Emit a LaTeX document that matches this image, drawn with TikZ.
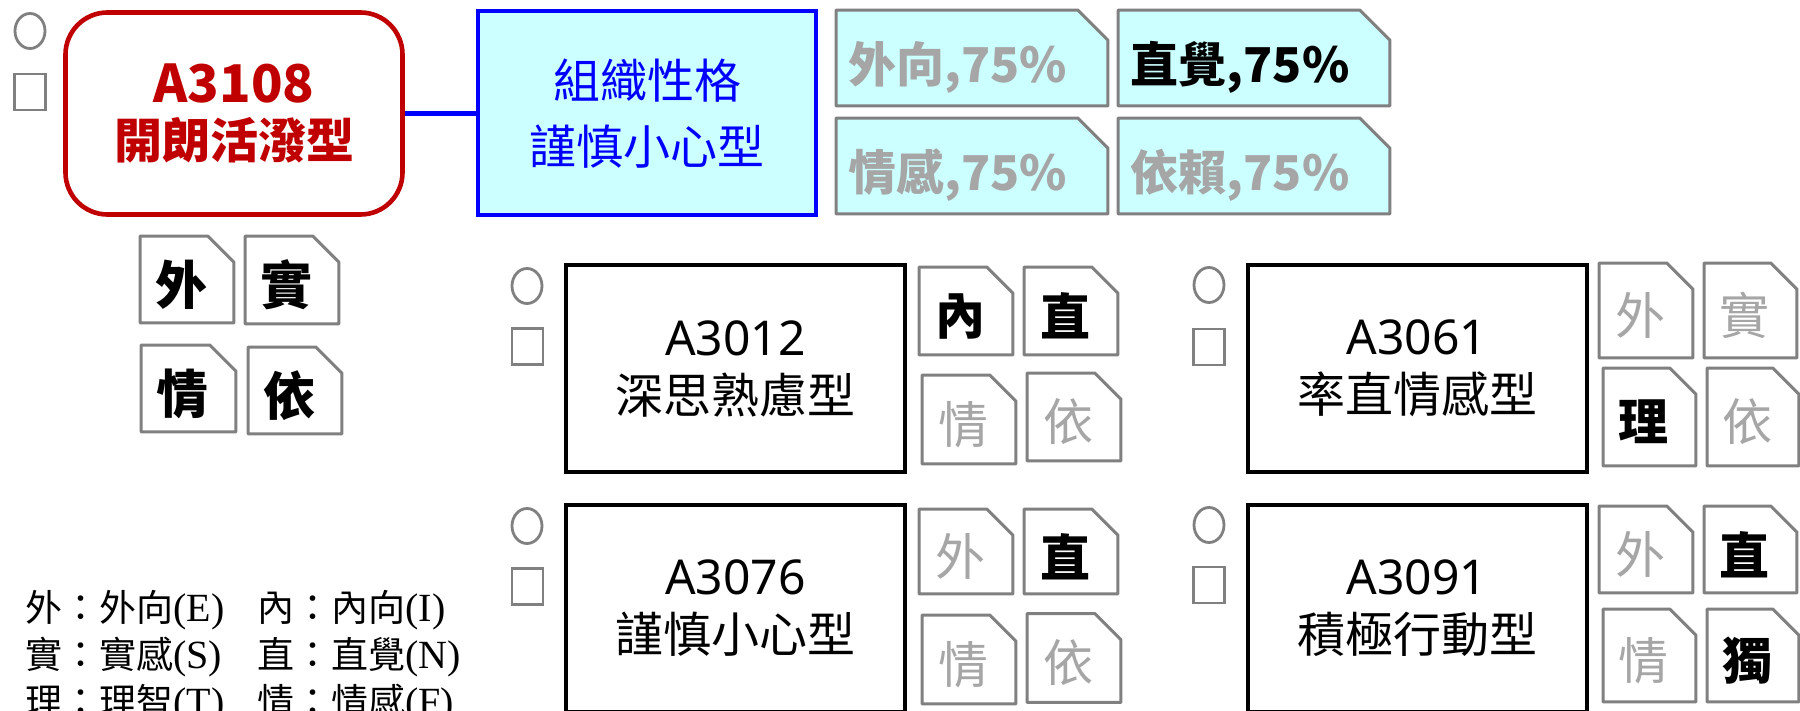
\documentclass[tikz,border=0pt]{standalone}
\usepackage{fontspec}
\setmainfont{Noto Sans CJK TC}
\newfontfamily\latf{Noto Sans}
\newfontfamily\tnr{Liberation Serif}
\usetikzlibrary{shapes.geometric,backgrounds}
\definecolor{cred}{HTML}{C00000}
\definecolor{cblue}{HTML}{0000FF}
\definecolor{ccyan}{HTML}{CCFFFF}
\definecolor{cline}{HTML}{808080}
\definecolor{ctext}{HTML}{A6A6A6}
\newcommand\smo[1]{\hspace*{-6pt}\raisebox{-2.5pt}[\height][\depth]{#1}}
\newcommand\tpo[1]{\hspace*{-14pt}\raisebox{-4.5pt}[\height][\depth]{#1}}
\newcommand\bktx[1]{\smo{\bfseries\color{black}#1}}
\newcommand\grtx[1]{\smo{\color{ctext}#1}}
% name, x, y, width, height, cut, path style, text
\newcommand\mytag[8]{%
  \node[tagnode,minimum width=#4,minimum height=#5] (#1) at (#2,#3) {#8};
  \begin{scope}[on background layer]
  \draw[tagline,#7] (#1.north west) -- ([xshift=-#6]#1.north east) -- ([yshift=-#6]#1.north east) -- (#1.south east) -- (#1.south west) -- cycle;
  \end{scope}}
\tikzset{
  tagnode/.style={inner sep=0pt},
  tagline/.style={draw=cline,line width=1.5pt,line join=round,fill=white},
  ck/.style={draw=cline,line width=1.4pt,ellipse,inner sep=0pt,minimum width=15pt,minimum height=17.5pt},
  sq/.style={draw=cline,line width=1.4pt,rectangle,inner sep=0pt,minimum width=15.5pt,minimum height=18pt},
  grpbox/.style={draw=black,line width=2pt,rectangle,inner sep=0pt,minimum width=169.5pt,minimum height=103.5pt,align=center,font=\fontsize{24}{29}\selectfont},
  hdrtag/.style={font=\fontsize{26}{30}\selectfont},
  grptag/.style={font=\fontsize{25}{30}\selectfont},
  toptag/.style={font=\fontsize{24}{29}\selectfont\bfseries},
}
\begin{document}
\begin{tikzpicture}[x=0.5pt,y=-0.5pt]
\useasboundingbox (0,0) rectangle (1800,711);
\begin{scope}[on background layer]
\fill[white] (0,0) rectangle (1800,711);
\end{scope}
% header
\node[ck] (c0) at (30,31) {};
\node[sq] (q0) at (30,92) {};
\node[draw=cred,line width=2.3pt,rectangle,rounded corners=21pt,inner sep=0pt,minimum width=168.5pt,minimum height=101pt,align=center,text=cred,font=\fontsize{24}{28}\selectfont\bfseries] (main) at (234,113.5) {{\fontsize{26}{28}\selectfont A3108}\\開朗活潑型};
\node[draw=cblue,line width=2pt,fill=ccyan,rectangle,inner sep=0pt,minimum width=169pt,minimum height=102pt,align=center,text=cblue,font=\fontsize{23.5}{33}\selectfont] (org) at (647,113.5) {組織性格\\謹慎小心型};
\draw[cblue,line width=2.3pt] (main.east) -- (org.west);
% top tags
\begin{scope}[toptag]
\mytag{t1}{972}{58}{135.5pt}{47.5pt}{15pt}{fill=ccyan}{\tpo{\color{ctext}外向,75\%}}
\mytag{t2}{1254}{58}{135.5pt}{47.5pt}{15pt}{fill=ccyan}{\tpo{\color{black}直覺,75\%}}
\mytag{t3}{972}{166}{135.5pt}{47.5pt}{15pt}{fill=ccyan}{\tpo{\color{ctext}情感,75\%}}
\mytag{t4}{1254}{166}{135.5pt}{47.5pt}{15pt}{fill=ccyan}{\tpo{\color{ctext}依賴,75\%}}
\end{scope}
% header small tags
\begin{scope}[hdrtag]
\mytag{s1}{187}{279.5}{46.5pt}{43pt}{13pt}{}{\bktx{外}}
\mytag{s2}{292}{280}{46.5pt}{43.5pt}{13pt}{}{\bktx{實}}
\mytag{s3}{188.5}{388.5}{47pt}{43pt}{13pt}{}{\bktx{情}}
\mytag{s4}{295}{390.5}{46.5pt}{43pt}{13pt}{}{\bktx{依}}
\end{scope}
% group A3012
\node[ck] (c1) at (527,286) {};
\node[sq] (q1) at (527.5,346.5) {};
\node[grpbox] (g1) at (735.5,368.5) {{\latf A3012}\\深思熟慮型};
\begin{scope}[grptag]
\mytag{g1a}{966}{311}{46.5pt}{43.5pt}{13pt}{}{\bktx{內}}
\mytag{g1b}{1071}{311}{46.5pt}{43.5pt}{13pt}{}{\bktx{直}}
\mytag{g1c}{969}{419.5}{46.5pt}{44pt}{13pt}{}{\grtx{情}}
\mytag{g1d}{1074}{417}{46.5pt}{43.5pt}{13pt}{}{\grtx{依}}
\end{scope}
% group A3061
\node[ck] (c2) at (1209,285) {};
\node[sq] (q2) at (1209,347) {};
\node[grpbox] (g2) at (1417,368.5) {{\latf A3061}\\率直情感型};
\begin{scope}[grptag]
\mytag{g2a}{1646}{310.5}{46.5pt}{47pt}{13pt}{}{\grtx{外}}
\mytag{g2b}{1750.5}{310.5}{46pt}{47pt}{13pt}{}{\grtx{實}}
\mytag{g2c}{1649.5}{417}{46pt}{48.5pt}{13pt}{}{\bktx{理}}
\mytag{g2d}{1753}{417}{45.5pt}{48.5pt}{13pt}{}{\grtx{依}}
\end{scope}
% group A3076
\node[ck] (c3) at (527,526) {};
\node[sq] (q3) at (527.5,586.5) {};
\node[grpbox] (g3) at (735.5,608.5) {{\latf A3076}\\謹慎小心型};
\begin{scope}[grptag]
\mytag{g3a}{966}{551.5}{46.5pt}{42pt}{13pt}{}{\grtx{外}}
\mytag{g3b}{1071}{551.5}{46.5pt}{42pt}{13pt}{}{\bktx{直}}
\mytag{g3c}{969}{659.5}{46.5pt}{44pt}{13pt}{}{\grtx{情}}
\mytag{g3d}{1074}{658}{46.5pt}{44pt}{13pt}{}{\grtx{依}}
\end{scope}
% group A3091
\node[ck] (c4) at (1209,525) {};
\node[sq] (q4) at (1209,585) {};
\node[grpbox] (g4) at (1417,608.5) {{\latf A3091}\\積極行動型};
\begin{scope}[grptag]
\mytag{g4a}{1646}{549.5}{46.5pt}{43pt}{13pt}{}{\grtx{外}}
\mytag{g4b}{1750.5}{549.5}{46pt}{43pt}{13pt}{}{\bktx{直}}
\mytag{g4c}{1649.5}{655.5}{46pt}{46pt}{13pt}{}{\grtx{情}}
\mytag{g4d}{1753}{655.5}{45.5pt}{46pt}{13pt}{}{\bktx{獨}}
\end{scope}
% legend
\node[anchor=base west,inner sep=0pt,font=\fontsize{18.5}{23.5}\selectfont] (legend) at (25,621) {%
\begin{tabular}[t]{@{}p{116pt}@{}l@{}}
外：外向{\tnr\fontsize{20}{23.5}\selectfont (E)} & 內：內向{\tnr\fontsize{20}{23.5}\selectfont (I)}\\
實：實感{\tnr\fontsize{20}{23.5}\selectfont (S)} & 直：直覺{\tnr\fontsize{20}{23.5}\selectfont (N)}\\
理：理智{\tnr\fontsize{20}{23.5}\selectfont (T)} & 情：情感{\tnr\fontsize{20}{23.5}\selectfont (F)}
\end{tabular}};
\end{tikzpicture}
\end{document}
